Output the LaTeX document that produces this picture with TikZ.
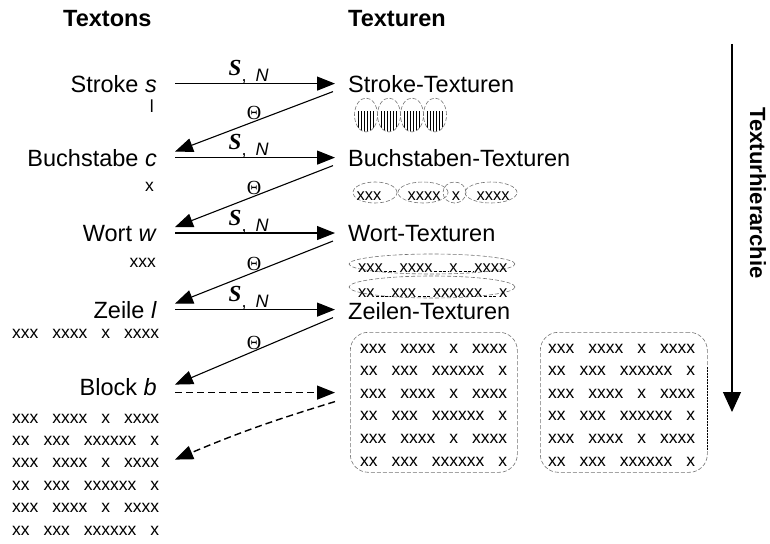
\documentclass[tikz,border=0pt]{standalone}
\usepackage{fontspec}
\setmainfont{Liberation Sans}
\newfontfamily\srf{Liberation Serif}
\usetikzlibrary{arrows.meta,calc,shapes.geometric}

% text lines of the x-blocks
\newcommand\xlA{xxx\hspace{14pt}xxxx\hspace{14pt}x\hspace{14pt}xxxx}
\newcommand\xlB{xx\hspace{14pt}xxx\hspace{14pt}xxxxxx\hspace{14pt}x}
\newcommand\wlA{xxx\hspace{16.7pt}xxxx\hspace{16.7pt}x\hspace{16.7pt}xxxx}
\newcommand\wlB{xx\hspace{16.7pt}xxx\hspace{16.7pt}xxxxxx\hspace{16.7pt}x}
\newcommand\snlab{{\fontsize{23}{23}\selectfont\srf\bfseries\itshape\raisebox{6pt}{S}}{\fontsize{18}{18}\selectfont,\hspace{9pt}\itshape N}}

\tikzset{
  lbl/.style={inner sep=0pt, font=\fontsize{23.5}{28}\selectfont},
  hdr/.style={inner sep=0pt, font=\fontsize{23.5}{28}\selectfont\bfseries},
  small/.style={inner sep=0pt, font=\fontsize{17.5}{22}\selectfont},
  tiny/.style={inner sep=0pt, font=\fontsize{16.5}{20}\selectfont},
  arr/.style={line width=1.1pt, -{Triangle[length=18pt,width=14pt]}},
  darr/.style={arr, line width=1.4pt, dash pattern=on 7pt off 4pt},
  varr/.style={line width=1.1pt, -{Triangle[length=20pt,width=18pt]}},
  outl/.style={draw=black!55, line width=0.6pt, dash pattern=on 4pt off 2pt},
  snpos/.style={pos=0.46, anchor=base, yshift=2pt, inner sep=0pt},
  thlab/.style={midway, above, inner sep=1pt, font=\fontsize{20}{20}\selectfont\srf},
}

\begin{document}
\begin{tikzpicture}[x=1pt,y=-1pt]
\useasboundingbox (0,0) rectangle (770,543);

% column headings
\node[hdr, anchor=base west] (hTextons) at (63,27) {Textons};
\node[hdr, anchor=base west] (hTexturen) at (348,27) {Texturen};

% textons
\node[lbl, anchor=base east] (tS)  at (157,92)  {Stroke \textit{s}};
\node[lbl, anchor=base east] (tB)  at (157,166) {Buchstabe \textit{c}};
\node[lbl, anchor=base east] (tW)  at (157,241) {Wort \textit{w}};
\node[lbl, anchor=base east] (tZ)  at (157,318) {Zeile \textit{l}};
\node[lbl, anchor=base east] (tBl) at (157,395) {Block \textit{b}};

% examples under the textons
\node[small, anchor=base east] (eS) at (154,112) {l};
\node[small, anchor=base east] (eB) at (154,191) {x};
\node[small, anchor=base east] (eW) at (156,267) {xxx};
\node[small, anchor=base west] (eZ) at (12,338) {\xlA};
\foreach \i/\t in {0/\xlA,1/\xlB,2/\xlA,3/\xlB,4/\xlA,5/\xlB}
  \node[small, anchor=base west] (eBl\i) at (12,423+22.4*\i) {\t};

% textures
\node[lbl, anchor=base west] (xS) at (348,92)  {Stroke-Texturen};
\node[lbl, anchor=base west] (xB) at (348,166) {Buchstaben-Texturen};
\node[lbl, anchor=base west] (xW) at (348,241) {Wort-Texturen};
\node[lbl, anchor=base west] (xZ) at (348,319) {Zeilen-Texturen};

% stroke textures: ellipses striped in their lower part
\foreach \cx [count=\k] in {366,389,412,435} {
  \begin{scope}
    \clip (\cx,115) ellipse [x radius=11.5, y radius=17];
    \foreach \dx in {-7.5,-4.5,-1.5,1.5,4.5,7.5}
      \draw[line width=0.9pt] (\cx+\dx,111) -- (\cx+\dx,134);
  \end{scope}
  \node[ellipse, outl, minimum width=23pt, minimum height=34pt, inner sep=0pt] (se\k) at (\cx,115) {};
}

% letter textures: words in ellipses
\foreach \cx/\w [count=\k] in {375/44, 423/50, 454.5/23, 491/52}
  \node[ellipse, outl, minimum width=\w pt, minimum height=21pt, inner sep=0pt] (be\k) at (\cx,192.5) {};
\node[tiny, anchor=base] (bw1) at (369,200) {xxx};
\node[tiny, anchor=base] (bw2) at (424,200) {xxxx};
\node[tiny, anchor=base] (bw3) at (456,200) {x};
\node[tiny, anchor=base] (bw4) at (493,200) {xxxx};

% word textures: lines in ellipses
\node[ellipse, outl, minimum width=166pt, minimum height=20pt, inner sep=0pt] (we1) at (432,264) {};
\node[ellipse, outl, minimum width=166pt, minimum height=22pt, inner sep=0pt] (we2) at (432,287) {};
\node[tiny, anchor=base west] (wl1) at (358,272) {\wlA};
\node[tiny, anchor=base west] (wl2) at (358,297) {\wlB};
\foreach \a/\b in {384/397, 434/448, 459/473}
  \draw[black, line width=0.8pt, dash pattern=on 3pt off 1.5pt] (\a,271) -- (\b,271);
\foreach \a/\b in {376/390, 418/431, 484/497}
  \draw[black, line width=0.8pt, dash pattern=on 3pt off 1.5pt] (\a,296) -- (\b,296);

% line textures: two boxes of lines
\node[outl, rounded corners=18pt, minimum width=167pt, minimum height=140pt, anchor=north west, inner sep=0pt] (zb1) at (350,332) {};
\node[outl, rounded corners=18pt, minimum width=167pt, minimum height=140pt, anchor=north west, inner sep=0pt] (zb2) at (540,332) {};
\draw[line width=1.6pt, dash pattern=on 2pt off 1pt] ($(zb2.north east)+(0,35)$) -- ($(zb2.north east)+(0,118)$);
\foreach \i/\t in {0/\xlA,1/\xlB,2/\xlA,3/\xlB,4/\xlA,5/\xlB} {
  \node[small, anchor=base west] (za\i) at (360,353+22.6*\i) {\t};
  \node[small, anchor=base west] (zc\i) at (548,353+22.6*\i) {\t};
}

% synthesis arrows S, N
\foreach \a/\b in {tS/xS, tB/xB, tW/xW, tZ/xZ}
  \draw[arr] ($(\a.east)+(18,0)$) -- ($(\a.east -| \b.west)+(-13,0)$) node[snpos] {\snlab};

% analysis arrows Theta
\foreach \a/\b/\c in {tS/xS/tB, tB/xB/tW, tW/xW/tZ}
  \draw[arr] ($(\a.east -| \b.west)+(-15,8)$) -- ($(\c.east)+(18,-6)$) node[thlab] {Θ};
\draw[arr] ($(tZ.east -| xZ.west)+(-15,8)$) -- ($(tBl.east)+(18,-2)$) node[thlab] {Θ};

% block level, dashed
\draw[darr] ($(tBl.east)+(18,6)$) -- ($(tBl.east -| zb1.west)+(-15,6)$);
\draw[darr] ($(tBl.east -| zb1.west)+(-15,15)$) to[bend right=3] ($(tBl.east)+(18,73)$);

% hierarchy axis
\coordinate (hTop) at (732,44);
\coordinate (hBot) at (732,412);
\draw[varr] (hTop) -- (hBot);
\node[inner sep=0pt, rotate=-90, font=\fontsize{22}{26}\selectfont\bfseries] (hier) at (758,193) {Texturhierarchie};
\end{tikzpicture}
\end{document}
